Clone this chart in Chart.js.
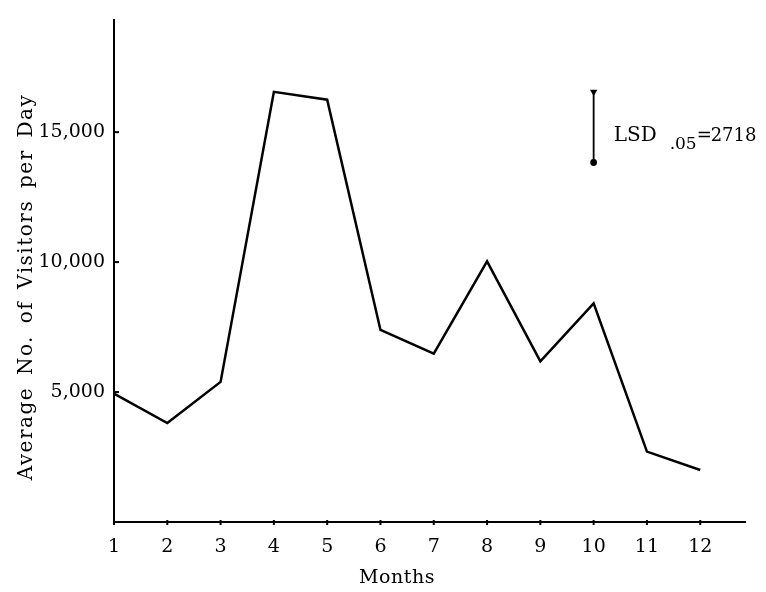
<!DOCTYPE html>
<html>
<head>
<meta charset="utf-8">
<script src="https://cdn.jsdelivr.net/npm/chart.js@4"></script>
<style>
html,body{margin:0;padding:0;background:#fff;}
#wrap{width:766px;height:592px;}
</style>
</head>
<body>
<div id="wrap"><canvas id="c" width="766" height="592"></canvas></div>
<script>
const months = [1,2,3,4,5,6,7,8,9,10,11,12];
const visitors = [4940,3810,5390,16550,16250,7390,6480,10030,6180,8410,2710,2000];
const yTicks = [5000,10000,15000];
const yTickLabels = ['5,000','10,000','15,000'];
const lsdMonth = 10;
const lsdTop = 16550;
const lsdValue = 2718;
const yTitle = 'Average No. of Visitors per Day';
const xTitle = 'Months';

const FONT = '"DejaVu Serif", "Liberation Serif", serif';

const decor = {
  id: 'decor',
  afterDraw(chart) {
    const ctx = chart.ctx;
    const xs = chart.scales.x, ys = chart.scales.y;
    const ca = chart.chartArea;
    ctx.save();
    ctx.strokeStyle = '#000';
    ctx.fillStyle = '#000';
    ctx.lineWidth = 2;
    yTicks.forEach(v => {
      const py = ys.getPixelForValue(v);
      ctx.beginPath(); ctx.moveTo(ca.left, py); ctx.lineTo(ca.left + 5, py); ctx.stroke();
    });
    months.forEach(m => {
      const px = xs.getPixelForValue(m);
      ctx.beginPath(); ctx.moveTo(px, ca.bottom - 2); ctx.lineTo(px, ca.bottom + 3); ctx.stroke();
    });
    // LSD text
    const lx = xs.getPixelForValue(lsdMonth);
    const midY = ys.getPixelForValue(lsdTop - lsdValue / 2) + 9;
    ctx.textBaseline = 'middle';
    ctx.textAlign = 'left';
    ctx.font = '20px ' + FONT;
    ctx.fillText('LSD', lx + 20, midY);
    ctx.font = '17px ' + FONT;
    ctx.fillText('.05', lx + 76, midY + 8);
    ctx.font = '18px ' + FONT;
    ctx.fillText('=', lx + 103, midY);
    ctx.fillText(String(lsdValue), lx + 117, midY);
    // y title
    ctx.save();
    ctx.translate(27, 287);
    ctx.rotate(-Math.PI / 2);
    ctx.font = '20px ' + FONT;
    ctx.letterSpacing = '1.5px';
    try { ctx.wordSpacing = '4px'; } catch (e) {}
    ctx.textAlign = 'center';
    ctx.textBaseline = 'middle';
    ctx.fillText(yTitle, 0, 0);
    ctx.restore();
    // x title
    ctx.font = '19px ' + FONT;
    ctx.letterSpacing = '0.5px';
    ctx.textAlign = 'center';
    ctx.textBaseline = 'middle';
    ctx.fillText(xTitle, 397, 578);
    ctx.restore();
  }
};

new Chart(document.getElementById('c'), {
  type: 'line',
  data: {
    datasets: [
      {
        label: 'Visitors',
        data: months.map((m, i) => ({x: m, y: visitors[i]})),
        borderColor: '#000',
        borderWidth: 2.5,
        pointRadius: 0,
        tension: 0,
        clip: false
      },
      {
        label: 'LSD',
        data: [{x: lsdMonth, y: lsdTop}, {x: lsdMonth, y: lsdTop - lsdValue}],
        borderColor: '#000',
        backgroundColor: '#000',
        borderWidth: 1.8,
        pointRadius: [2.5, 2.5],
        pointStyle: ['triangle', 'circle'],
        pointRotation: [180, 0],
        clip: false
      }
    ]
  },
  plugins: [decor],
  options: {
    responsive: false,
    animation: false,
    devicePixelRatio: 1,
    layout: {padding: {top: 10, right: 21, left: 0, bottom: 0}},
    plugins: {legend: {display: false}, tooltip: {enabled: false}, title: {display: false}},
    scales: {
      x: {
        type: 'linear',
        min: 1,
        max: 12.84,
        afterBuildTicks(s) { s.ticks = months.map(m => ({value: m})); },
        afterFit(s) { s.height = 70; },
        grid: {display: false, drawTicks: false},
        border: {display: true, color: '#000', width: 2},
        ticks: {
          color: '#000',
          font: {family: FONT, size: 19},
          padding: 14,
          maxRotation: 0,
          autoSkip: false,
          callback: v => String(v)
        }
      },
      y: {
        type: 'linear',
        min: 0,
        max: 19300,
        afterBuildTicks(s) { s.ticks = yTicks.map(v => ({value: v})); },
        afterFit(s) { s.width = 114; },
        grid: {display: false, drawTicks: false},
        border: {display: true, color: '#000', width: 2},
        ticks: {
          color: '#000',
          font: {family: FONT, size: 19},
          padding: 9,
          callback: v => yTickLabels[yTicks.indexOf(v)]
        }
      }
    }
  }
});
</script>
</body>
</html>
